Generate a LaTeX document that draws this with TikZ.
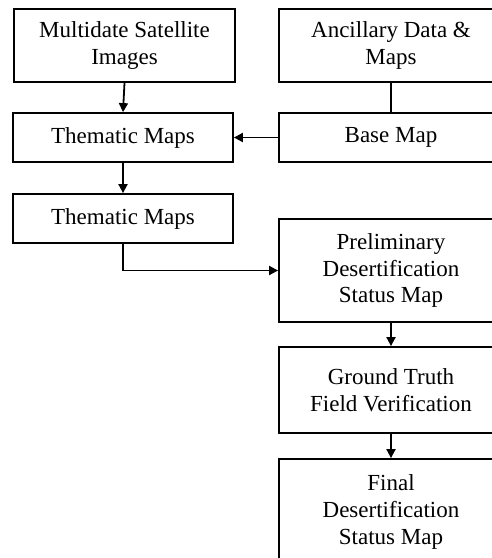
\documentclass[tikz,border=0pt]{standalone}
\usepackage{fontspec}
\setmainfont{Liberation Serif}
\usetikzlibrary{arrows.meta}
\begin{document}
\begin{tikzpicture}[x=1pt,y=-1pt,
  box/.style={draw,line width=1.8pt,inner sep=0pt,align=center,
    font=\fontsize{23}{26.7}\selectfont},
  conn/.style={line width=1.8pt},
  arr/.style={conn,-{Triangle[length=9pt,width=9pt]}}]
\useasboundingbox (0,0) rectangle (491,558);
\node[box,minimum width=221pt,minimum height=73pt] (ms) at (124.5,45.5) {Multidate Satellite\\Images};
\node[box,minimum width=224pt,minimum height=73pt] (ad) at (391,45.5) {Ancillary Data \&\\Maps};
\node[box,minimum width=220pt,minimum height=49pt] (tm1) at (123,137.5) {Thematic Maps};
\node[box,minimum width=224pt,minimum height=49pt] (bm) at (391,137.5) {Base Map};
\node[box,minimum width=220pt,minimum height=49pt] (tm2) at (123,218.5) {Thematic Maps};
\node[box,minimum width=224pt,minimum height=103pt] (pd) at (391,270.5) {Preliminary\\Desertification\\Status Map};
\node[box,minimum width=224pt,minimum height=86pt] (gt) at (391,390) {Ground Truth\\Field Verification};
\node[box,minimum width=224pt,minimum height=106pt] (fd) at (391,512) {Final\\Desertification\\Status Map};
\draw[arr] (ms.south) -- (tm1.north);
\draw[conn] (ad.south) -- (bm.north);
\draw[arr] (bm.west) -- (tm1.east);
\draw[arr] (tm1.south) -- (tm2.north);
\draw[arr] (tm2.south) |- (pd.west);
\draw[arr] (pd.south) -- (gt.north);
\draw[arr] (gt.south) -- (fd.north);
\end{tikzpicture}
\end{document}
